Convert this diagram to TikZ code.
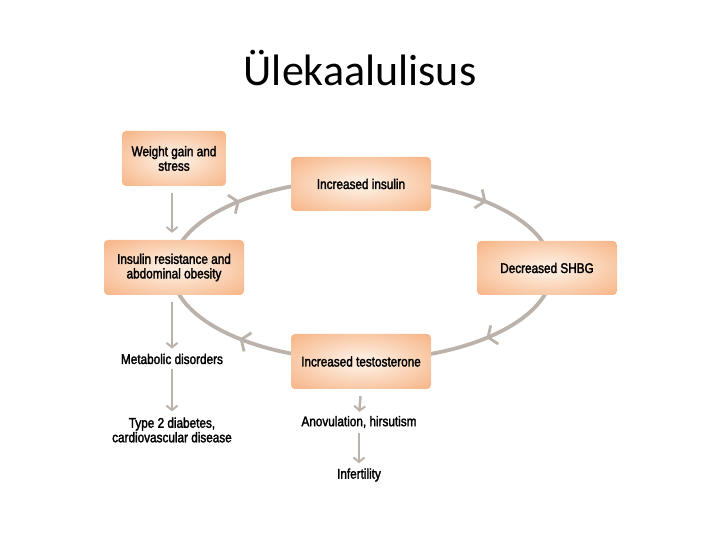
\documentclass[tikz,border=0pt]{standalone}
\usepackage{fontspec}
\setmainfont{Liberation Sans}
\newfontfamily\titlefont{Carlito}
\newfontfamily\narrowfont[FakeStretch=0.84,FakeBold=2]{Liberation Sans}
\usetikzlibrary{arrows.meta,decorations.markings,backgrounds}
\definecolor{boxout}{HTML}{F6AF7E}
\definecolor{boxin}{HTML}{FDEADA}
\definecolor{linegrey}{HTML}{BBB3AB}
\pgfdeclareradialshading{boxshade}{\pgfpoint{0bp}{0bp}}{color(0bp)=(boxin); color(6bp)=(boxin); color(38bp)=(boxout); color(50bp)=(boxout)}
\tikzset{
  orbox/.style={rounded corners=4pt, shading=boxshade, draw=none, minimum width=140pt, minimum height=54pt, align=center, font=\narrowfont\fontsize{14}{14.5}\selectfont, text=black, inner sep=0pt},
  plain/.style={align=center, font=\narrowfont\fontsize{14}{14.5}\selectfont, text=black, inner sep=0pt},
  vtip/.style={-{Straight Barb[length=4.5pt,width=11pt,line width=2pt]}},
  vline/.style={draw=linegrey, line width=2.5pt, vtip},
  cyc/.style={draw=linegrey, line width=3.8pt},
  chev/.style={postaction={decorate}, decoration={markings, mark=at position #1 with {\arrow[linegrey, line width=2.8pt]{Straight Barb[length=7pt,width=20pt]}}}}
}
\begin{document}
\begin{tikzpicture}[x=1pt,y=1pt]
\useasboundingbox (0,0) rectangle (720,540);
\node[font=\titlefont\fontsize{44}{45}\selectfont] (title) at (360,472) {Ülekaalulisus};
\coordinate (c) at (362,270);
\node[orbox, minimum width=104pt, minimum height=55pt] (wg) at (174,381.5) {Weight gain and\\stress};
\node[orbox] (ins) at (361,356) {Increased insulin};
\node[orbox, minimum height=55pt] (ir) at (174,272.5) {Insulin resistance and\\abdominal obesity};
\node[orbox] (shbg) at (547,272) {Decreased SHBG};
\node[orbox, minimum height=55pt] (test) at (361,178.5) {Increased testosterone};
\node[plain] (met) at (172,181) {Metabolic disorders};
\node[plain] (t2) at (172,110) {Type 2 diabetes,\\cardiovascular disease};
\node[plain] (anov) at (359,118) {Anovulation, hirsutism};
\node[plain] (inf) at (359,65) {Infertility};
\begin{scope}[on background layer]
  \path[cyc, chev=0.45] (c) ++(180:190 and 90) arc[start angle=180, end angle=90, x radius=190, y radius=90];
  \path[cyc, chev=0.56] (c) ++(90:190 and 90) arc[start angle=90, end angle=0, x radius=190, y radius=90];
  \path[cyc, chev=0.44] (c) ++(0:190 and 90) arc[start angle=0, end angle=-90, x radius=190, y radius=90];
  \path[cyc, chev=0.55] (c) ++(-90:190 and 90) arc[start angle=-90, end angle=-180, x radius=190, y radius=90];
\end{scope}
\draw[vline, shorten <=7pt, shorten >=7pt] (wg.south -| 172,0) -- (ir.north -| 172,0);
\draw[vline, shorten <=7pt, shorten >=5pt] (ir.south -| 172,0) -- (met.north -| 172,0);
\draw[vline, shorten <=5pt, shorten >=6pt] (met.south) -- (t2.north);
\draw[vline, shorten <=7pt, shorten >=4pt] (test.south) -- (anov.north);
\draw[vline, shorten <=5pt, shorten >=5pt] (anov.south) -- (inf.north);
\end{tikzpicture}
\end{document}
